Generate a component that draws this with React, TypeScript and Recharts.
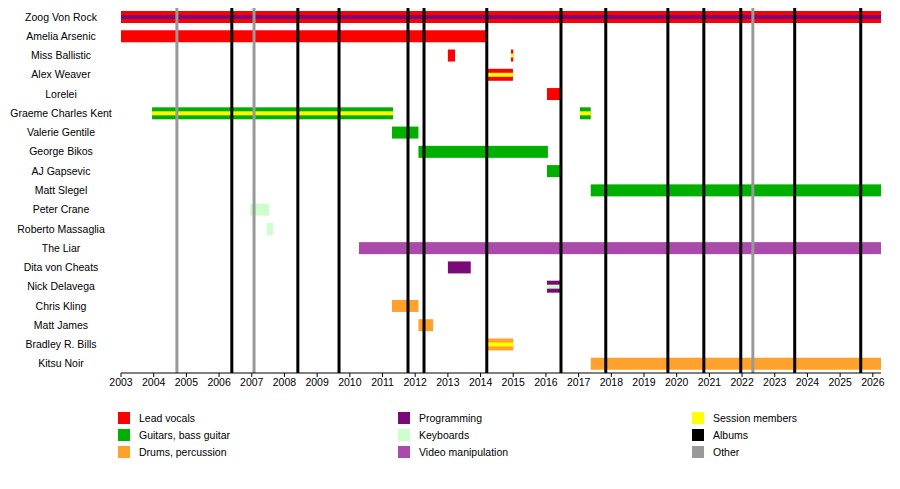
import { Bar, ComposedChart, ReferenceLine, XAxis, YAxis } from "recharts";

const RED = "#ff0000";
const GREEN = "#00b000";
const ORANGE = "#ffa12a";
const PURPLE = "#7a0a7a";
const KEYS = "#ccffcc";
const VIDEO = "#aa4aaa";
const YELLOW = "#ffff00";

const members = [
  "Zoog Von Rock", "Amelia Arsenic", "Miss Ballistic", "Alex Weaver", "Lorelei",
  "Graeme Charles Kent", "Valerie Gentile", "George Bikos", "AJ Gapsevic", "Matt Slegel",
  "Peter Crane", "Roberto Massaglia", "The Liar", "Dita von Cheats", "Nick Delavega",
  "Chris Kling", "Matt James", "Bradley R. Bills", "Kitsu Noir",
];

// [member, start, end, colour, stripe colour]
const spans: [string, number, number, string, string | null][] = [
  ["Zoog Von Rock", 2003, 2026.25, RED, PURPLE],
  ["Amelia Arsenic", 2003, 2014.19, RED, null],
  ["Miss Ballistic", 2013.0, 2013.22, RED, null],
  ["Miss Ballistic", 2014.93, 2015.0, RED, YELLOW],
  ["Alex Weaver", 2014.22, 2014.99, RED, YELLOW],
  ["Lorelei", 2016.03, 2016.46, RED, null],
  ["Graeme Charles Kent", 2003.95, 2011.32, GREEN, YELLOW],
  ["Graeme Charles Kent", 2017.04, 2017.37, GREEN, YELLOW],
  ["Valerie Gentile", 2011.29, 2012.1, GREEN, null],
  ["George Bikos", 2012.1, 2016.06, GREEN, null],
  ["AJ Gapsevic", 2016.03, 2016.49, GREEN, null],
  ["Matt Slegel", 2017.37, 2026.25, GREEN, null],
  ["Peter Crane", 2006.95, 2007.53, KEYS, null],
  ["Roberto Massaglia", 2007.46, 2007.65, KEYS, null],
  ["The Liar", 2010.28, 2026.25, VIDEO, null],
  ["Dita von Cheats", 2013.0, 2013.7, PURPLE, null],
  ["Nick Delavega", 2016.03, 2016.46, PURPLE, KEYS],
  ["Chris Kling", 2011.29, 2012.1, ORANGE, null],
  ["Matt James", 2012.1, 2012.55, ORANGE, null],
  ["Bradley R. Bills", 2014.22, 2015.0, ORANGE, YELLOW],
  ["Kitsu Noir", 2017.37, 2026.25, ORANGE, null],
];

const albums = [2006.39, 2008.41, 2009.67, 2011.78, 2012.27, 2014.19, 2016.46, 2017.83, 2019.73, 2020.83, 2021.96, 2023.61, 2025.63];
const others = [2004.71, 2007.07, 2022.33];
const years = Array.from({ length: 24 }, (_, i) => 2003 + i);

const legend: [string, string][] = [
  [RED, "Lead vocals"], [PURPLE, "Programming"], [YELLOW, "Session members"],
  [GREEN, "Guitars, bass guitar"], [KEYS, "Keyboards"], ["#000000", "Albums"],
  [ORANGE, "Drums, percussion"], [VIDEO, "Video manipulation"], ["#999999", "Other"],
];

const data = members.map((name) => {
  const row: any = { name };
  spans.filter((s) => s[0] === name).forEach((s, i) => {
    row["s" + i] = [s[1], s[2]];
    row["c" + i] = s[3];
    row["t" + i] = s[4];
  });
  return row;
});

const makeShape = (i: number) => (p: any) => {
  const { x, y, width, height, payload } = p;
  if (!payload["s" + i] || !width) return <g />;
  const c = payload["c" + i];
  const t = payload["t" + i];
  const h3 = height / 3;
  return (
    <g>
      <rect x={x} y={y} width={width} height={height} fill={c} />
      {t && <rect x={x} y={y + h3} width={width} height={h3} fill={t} />}
    </g>
  );
};

const NameTick = ({ y, payload }: any) => (
  <text x={61} y={y} dy={4} textAnchor="middle" fontSize={10.5} fill="#000">
    {payload.value}
  </text>
);

export default function App() {
  const font = "'Liberation Sans', Arial, sans-serif";
  return (
    <div style={{ position: "relative", width: 900, height: 489, margin: -8, fontFamily: font, background: "#fff" }}>
      <ComposedChart width={900} height={489} layout="vertical" data={data}
        margin={{ top: 7, right: 19, left: 0, bottom: 96 }} barCategoryGap={0}>
        <XAxis type="number" domain={[2003, 2026.25]} ticks={years} allowDataOverflow
          interval={0} tick={{ fontSize: 10.5, fill: "#000" }} stroke="#000" tickSize={4} height={20} />
        <YAxis yAxisId={0} type="category" dataKey="name" width={121} interval={0}
          tick={<NameTick />} tickLine={false} axisLine={false} />
        <YAxis yAxisId={1} type="category" dataKey="name" hide />
        {others.map((v) => (
          <ReferenceLine key={v} yAxisId={0} x={v} stroke="#999" strokeWidth={3} />
        ))}
        {albums.map((v) => (
          <ReferenceLine key={v} yAxisId={0} x={v} stroke="#000" strokeWidth={3} />
        ))}
        <Bar yAxisId={0} dataKey="s0" barSize={12} shape={makeShape(0)} isAnimationActive={false} />
        <Bar yAxisId={1} dataKey="s1" barSize={12} shape={makeShape(1)} isAnimationActive={false} />
      </ComposedChart>
      {legend.map(([c, label], i) => {
        const col = i % 3;
        const row = Math.floor(i / 3);
        return (
          <div key={label} style={{ position: "absolute", left: [118, 398, 692][col], top: 412 + row * 17,
            display: "flex", alignItems: "center", fontSize: 10.5 }}>
            <div style={{ width: 12, height: 12, background: c, marginRight: 9 }} />
            {label}
          </div>
        );
      })}
    </div>
  );
}
